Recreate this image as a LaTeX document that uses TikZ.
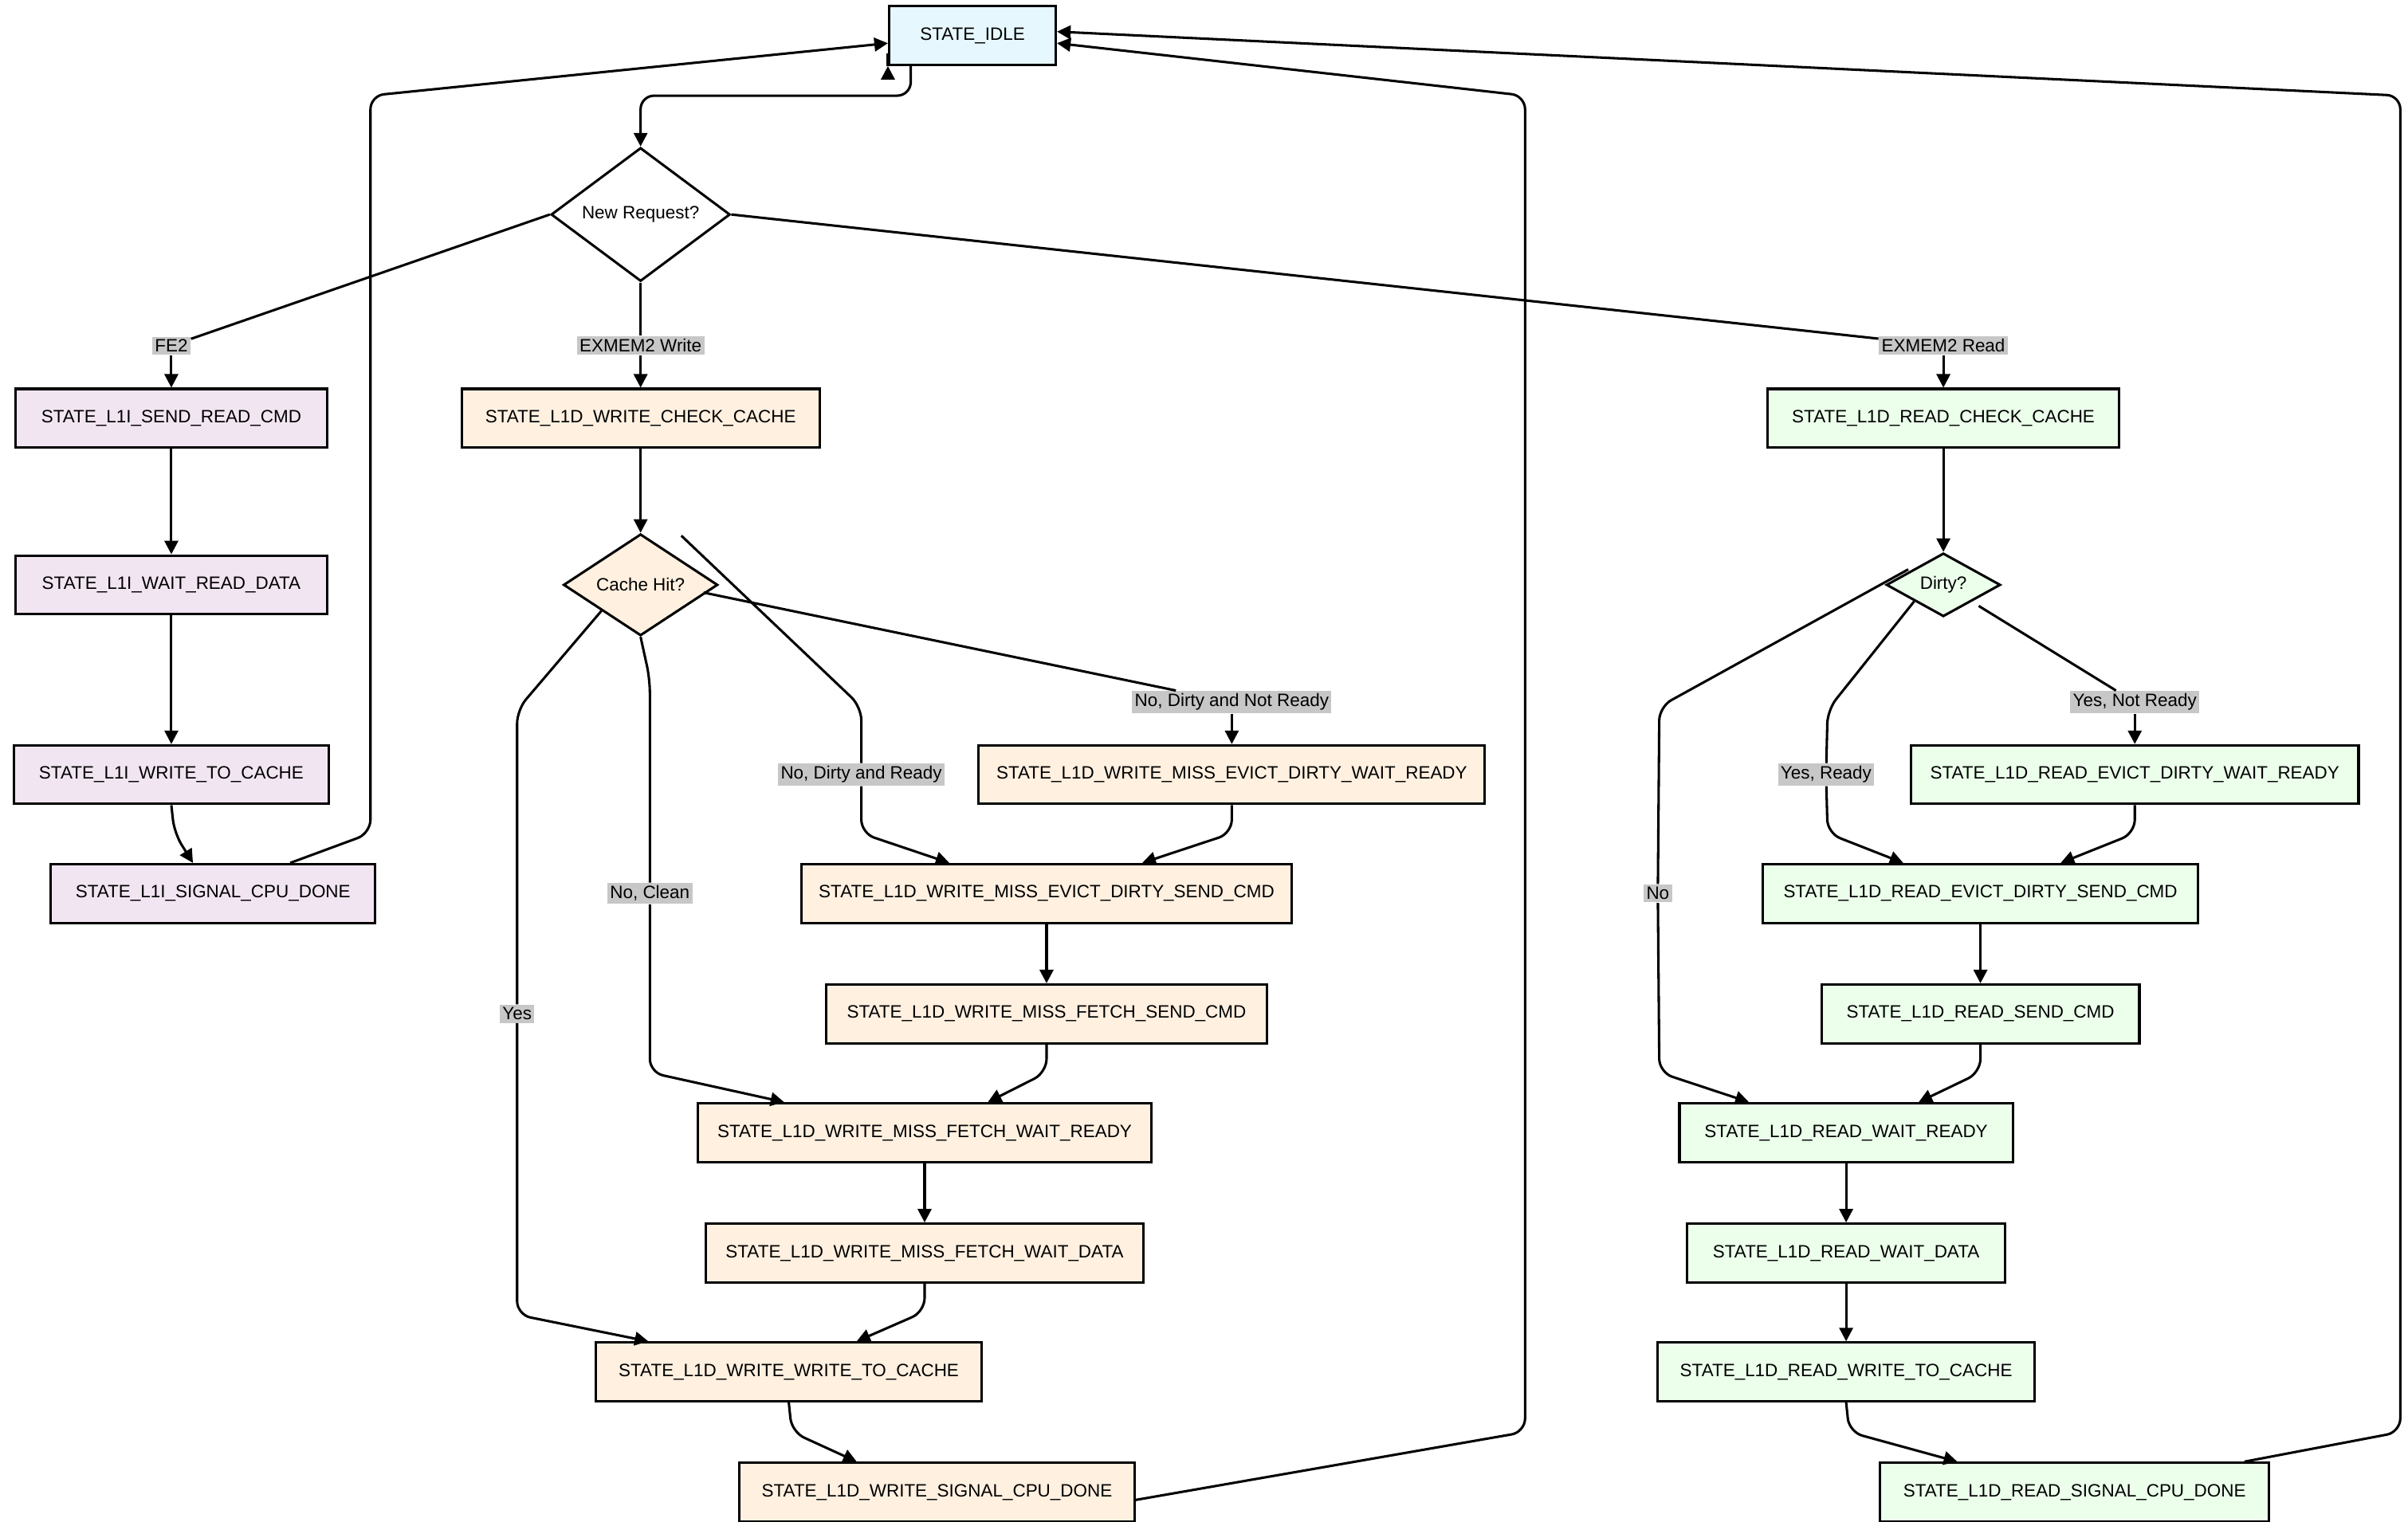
\documentclass[tikz,border=0pt]{standalone}
\usepackage{fontspec}
\setmainfont{Liberation Sans}
\usetikzlibrary{shapes.geometric,arrows.meta,calc}

\tikzset{
  st/.style={draw, line width=0.9pt, minimum height=0.76cm, inner sep=2pt, font=\fontsize{6.6}{8}\selectfont},
  idle/.style={st, fill=cyan!10},
  l1i/.style={st, fill=violet!10},
  wr/.style={st, fill=orange!12},
  rd/.style={st, fill=green!8},
  dec/.style={diamond, draw, line width=0.9pt, aspect=1, inner sep=0pt, font=\fontsize{6.6}{8}\selectfont},
  lbl/.style={fill=black!22, inner sep=1pt, font=\fontsize{6.6}{8}\selectfont},
  edge/.style={draw, line width=0.9pt, rounded corners=5pt, -{Triangle[length=5pt,width=5pt]}},
  line/.style={draw, line width=0.9pt, rounded corners=5pt}
}

\begin{document}
\begin{tikzpicture}[x=0.02cm, y=-0.02cm]
\useasboundingbox (0,0) rectangle (1560,986);
% states
\node[idle, minimum width=2.16cm] (idle) at (630,23) {STATE\_IDLE};
\node[dec, fill=white, minimum width=2.32cm] (req) at (415,139) {New Request?};
\node[lbl] (lfe) at (111,224) {FE2};
\node[lbl] (lwr) at (415,224) {EXMEM2 Write};
\node[lbl] (lrd) at (1259,224) {EXMEM2 Read};
% L1I path
\node[l1i, minimum width=4.04cm] (isend) at (111,271) {STATE\_L1I\_SEND\_READ\_CMD};
\node[l1i, minimum width=4.04cm] (iwait) at (111,379) {STATE\_L1I\_WAIT\_READ\_DATA};
\node[l1i, minimum width=4.08cm] (iwrite) at (111,502) {STATE\_L1I\_WRITE\_TO\_CACHE};
\node[l1i, minimum width=4.2cm] (idone) at (138,579) {STATE\_L1I\_SIGNAL\_CPU\_DONE};
% write path
\node[wr, minimum width=4.64cm] (wcheck) at (415,271) {STATE\_L1D\_WRITE\_CHECK\_CACHE};
\node[dec, fill=orange!12, minimum width=2cm] (hit) at (415,379) {Cache Hit?};
\node[lbl] (lnr) at (798,455) {No, Dirty and Not Ready};
\node[lbl] (ldr) at (558,502) {No, Dirty and Ready};
\node[lbl] (lcl) at (421,579) {No, Clean};
\node[lbl] (lye) at (335,657) {Yes};
\node[wr, minimum width=6.56cm] (wevwait) at (798,502) {STATE\_L1D\_WRITE\_MISS\_EVICT\_DIRTY\_WAIT\_READY};
\node[wr, minimum width=6.36cm] (wevsend) at (678,579) {STATE\_L1D\_WRITE\_MISS\_EVICT\_DIRTY\_SEND\_CMD};
\node[wr, minimum width=5.72cm] (wfsend) at (678,657) {STATE\_L1D\_WRITE\_MISS\_FETCH\_SEND\_CMD};
\node[wr, minimum width=5.88cm] (wfready) at (599,734) {STATE\_L1D\_WRITE\_MISS\_FETCH\_WAIT\_READY};
\node[wr, minimum width=5.68cm] (wfdata) at (599,812) {STATE\_L1D\_WRITE\_MISS\_FETCH\_WAIT\_DATA};
\node[wr, minimum width=5cm] (wwrite) at (511,889) {STATE\_L1D\_WRITE\_WRITE\_TO\_CACHE};
\node[wr, minimum width=5.12cm] (wdone) at (607,967) {STATE\_L1D\_WRITE\_SIGNAL\_CPU\_DONE};
% read path
\node[rd, minimum width=4.56cm] (rcheck) at (1259,271) {STATE\_L1D\_READ\_CHECK\_CACHE};
\node[dec, fill=green!8, minimum width=1.48cm] (dirty) at (1259,379) {Dirty?};
\node[lbl] (lynr) at (1383,455) {Yes, Not Ready};
\node[lbl] (lyr) at (1183,502) {Yes, Ready};
\node[lbl] (lno) at (1074,579) {No};
\node[rd, minimum width=5.8cm] (revwait) at (1383,502) {STATE\_L1D\_READ\_EVICT\_DIRTY\_WAIT\_READY};
\node[rd, minimum width=5.64cm] (revsend) at (1283,579) {STATE\_L1D\_READ\_EVICT\_DIRTY\_SEND\_CMD};
\node[rd, minimum width=4.12cm] (rsend) at (1283,657) {STATE\_L1D\_READ\_SEND\_CMD};
\node[rd, minimum width=4.32cm] (rready) at (1196,734) {STATE\_L1D\_READ\_WAIT\_READY};
\node[rd, minimum width=4.12cm] (rdata) at (1196,812) {STATE\_L1D\_READ\_WAIT\_DATA};
\node[rd, minimum width=4.88cm] (rwrite) at (1196,889) {STATE\_L1D\_READ\_WRITE\_TO\_CACHE};
\node[rd, minimum width=5.04cm] (rdone) at (1344,967) {STATE\_L1D\_READ\_SIGNAL\_CPU\_DONE};

% dispatch
\path[edge] (idle.south west) ++(0,0) -- (idle.south west) ; % placeholder-free
\path[edge] ([xshift=-0.8cm]idle.south) |- (415,62) -- (req.north);
\path[line] (req.west) -- (lfe);
\path[edge] (lfe) -- (isend);
\path[line] (req.south) -- (lwr);
\path[edge] (lwr) -- (wcheck);
\path[line] (req.east) -- (lrd);
\path[edge] (lrd) -- (rcheck);
% L1I
\path[edge] (isend) -- (iwait);
\path[edge] (iwait) -- (iwrite);
\path[edge] (iwrite.south) -- (113,540) -- ([xshift=-0.26cm]idone.north);
\path[edge] ([xshift=1cm]idone.north) -- (240,540) -- (240,62) -- ([yshift=-0.1cm]idle.west);
% write
\path[edge] (wcheck) -- (hit);
\path[line] (hit.west) ++(0.4cm,-0.1cm) coordinate (hy) (hit.south west) -- (335,460) -- (lye);
\path[edge] (lye) -- (335,852) -- ([xshift=-1.82cm]wwrite.north);
\path[line] (hit.south) -- (421,440) -- (lcl);
\path[edge] (lcl) -- (421,695) -- ([xshift=-1.82cm]wfready.north);
\path[line] (hit.north east) ++(0.02cm,0.3cm) -- (558,458) -- (ldr);
\path[edge] (ldr) -- (558,540) -- ([xshift=-1.26cm]wevsend.north);
\path[line] (hit.east) ++(-0.2cm,-0.1cm) -- (lnr);
\path[edge] (lnr) -- (wevwait);
\path[edge] (wevwait.south) -- (798,540) -- ([xshift=1.24cm]wevsend.north);
\path[edge] (wevsend) -- (wfsend);
\path[edge] (wfsend.south) -- (678,695) -- ([xshift=0.82cm]wfready.north);
\path[edge] (wfready) -- (wfdata);
\path[edge] (wfdata.south) -- (599,850) -- ([xshift=0.88cm]wwrite.north);
\path[edge] (wwrite.south) -- (513,928) -- ([xshift=-1.04cm]wdone.north);
\path[edge] (wdone.east) ++(0,-0.1cm) -- (988,928) -- (988,62) -- ([yshift=-0.1cm]idle.east);
% read
\path[edge] (rcheck) -- (dirty);
\path[line] (dirty.west) ++(0.3cm,0.2cm) -- (1075,458) -- (lno);
\path[edge] (lno) -- (1075,695) -- ([xshift=-1.26cm]rready.north);
\path[line] (dirty.south west) -- (1184,460) -- (lyr);
\path[edge] (lyr) -- (1184,540) -- ([xshift=-1cm]revsend.north);
\path[line] (dirty.south east) ++(0.08cm,-0.06cm) -- (lynr);
\path[edge] (lynr) -- (revwait);
\path[edge] (revwait.south) -- (1383,540) -- ([xshift=1.04cm]revsend.north);
\path[edge] (revsend) -- (rsend);
\path[edge] (rsend.south) -- (1283,695) -- ([xshift=0.94cm]rready.north);
\path[edge] (rready) -- (rdata);
\path[edge] (rdata) -- (rwrite);
\path[edge] (rwrite.south) -- (1198,928) -- ([xshift=-1.52cm]rdone.north);
\path[edge] ([xshift=2.2cm]rdone.north) -- (1555,928) -- (1555,62) -- ([yshift=0.05cm]idle.east);
\end{tikzpicture}
\end{document}
